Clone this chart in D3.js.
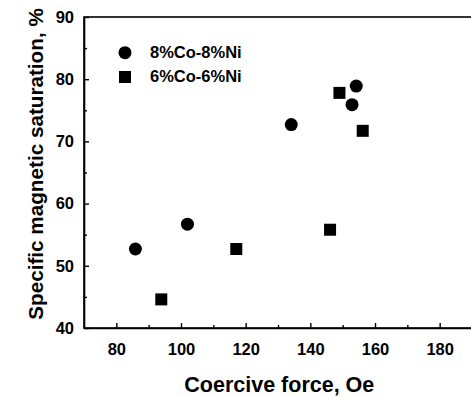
<!DOCTYPE html>
<html>
<head>
<meta charset="utf-8">
<script src="https://cdn.jsdelivr.net/npm/d3@7"></script>
<style>
  body { margin: 0; background: #fff; }
  svg { display: block; font-family: "Liberation Sans", Arial, sans-serif; font-weight: bold; }
</style>
</head>
<body>
<div id="chart"></div>
<script>

// data
var coNi8X = [85.9, 102.0, 134.1, 152.9, 154.2],
    coNi8Y = [52.7, 56.7, 72.7, 75.9, 78.9];
var coNi6X = [93.9, 117.1, 146.1, 149.0, 156.2],
    coNi6Y = [44.6, 52.7, 55.8, 77.8, 71.7];
var seriesNames = ["8%Co-8%Ni", "6%Co-6%Ni"];
var xTicks = [80, 100, 120, 140, 160, 180],
    xMinor = [90, 110, 130, 150, 170, 190],
    yTicks = [40, 50, 60, 70, 80, 90],
    yMinor = [45, 55, 65, 75, 85];

var margin = {top: 17, right: 0, bottom: 69, left: 84},
    width = 388,
    height = 311;

var svg = d3.select("#chart").append("svg")
    .attr("width", 471)
    .attr("height", 397)
  .append("g")
    .attr("transform", "translate(" + margin.left + "," + margin.top + ")");

var x = d3.scaleLinear().domain([70, 190]).range([0, width]);
var y = d3.scaleLinear().domain([40, 90]).range([height, 0]);

// frame (right side runs off the picture)
svg.append("rect")
    .attr("width", width + 6)
    .attr("height", height)
    .attr("fill", "none")
    .attr("stroke", "#000")
    .attr("stroke-width", 1.6);

var xAxis = d3.axisBottom(x)
    .tickValues(xTicks)
    .tickSize(-5)
    .tickSizeOuter(0)
    .tickPadding(15);

var yAxis = d3.axisLeft(y)
    .tickValues(yTicks)
    .tickSize(-5)
    .tickSizeOuter(0)
    .tickPadding(10);

var gx = svg.append("g")
    .attr("transform", "translate(0," + height + ")")
    .call(xAxis);

gx.append("g").call(d3.axisBottom(x).tickValues(xMinor).tickSize(-3).tickSizeOuter(0).tickFormat(""))
  .select(".domain").remove();

var gy = svg.append("g").call(yAxis);

gy.append("g").call(d3.axisLeft(y).tickValues(yMinor).tickSize(-3).tickSizeOuter(0).tickFormat(""))
  .select(".domain").remove();

svg.selectAll(".domain").attr("stroke-width", 1.6);
svg.selectAll(".tick line").attr("stroke-width", 1.4);
svg.selectAll(".tick text")
    .attr("fill", "#000")
    .style("font-size", "16.5px")
    .style("font-family", "'Liberation Sans', Arial, sans-serif")
    .style("font-weight", "bold");

// axis titles
svg.append("text")
    .attr("x", 279.3 - margin.left)
    .attr("y", 391.5 - margin.top)
    .attr("text-anchor", "middle")
    .style("font-size", "21.5px")
    .text("Coercive force, Oe");

svg.append("text")
    .attr("transform", "translate(" + (43 - margin.left) + "," + (164 - margin.top) + ") rotate(-90)")
    .attr("text-anchor", "middle")
    .style("font-size", "20.7px")
    .text("Specific magnetic saturation, %");

// series
svg.append("g").selectAll("circle")
    .data(coNi8X)
  .enter().append("circle")
    .attr("cx", function(d) { return x(d); })
    .attr("cy", function(d, i) { return y(coNi8Y[i]); })
    .attr("r", 6.5)
    .attr("fill", "#000");

var sq = 12;
svg.append("g").selectAll("rect")
    .data(coNi6X)
  .enter().append("rect")
    .attr("x", function(d) { return x(d) - sq / 2; })
    .attr("y", function(d, i) { return y(coNi6Y[i]) - sq / 2; })
    .attr("width", sq)
    .attr("height", sq)
    .attr("fill", "#000");

// legend
var legend = svg.append("g")
    .attr("transform", "translate(" + (125 - margin.left) + "," + (52.7 - margin.top) + ")");

legend.append("circle")
    .attr("r", 6.5)
    .attr("fill", "#000");

legend.append("rect")
    .attr("x", -6)
    .attr("y", 24.3 - 6)
    .attr("width", 12)
    .attr("height", 12)
    .attr("fill", "#000");

legend.selectAll("text")
    .data(seriesNames)
  .enter().append("text")
    .attr("x", 25)
    .attr("y", function(d, i) { return 5.5 + i * 24.3; })
    .style("font-size", "16.5px")
    .text(function(d) { return d; });

</script>
</body>
</html>
